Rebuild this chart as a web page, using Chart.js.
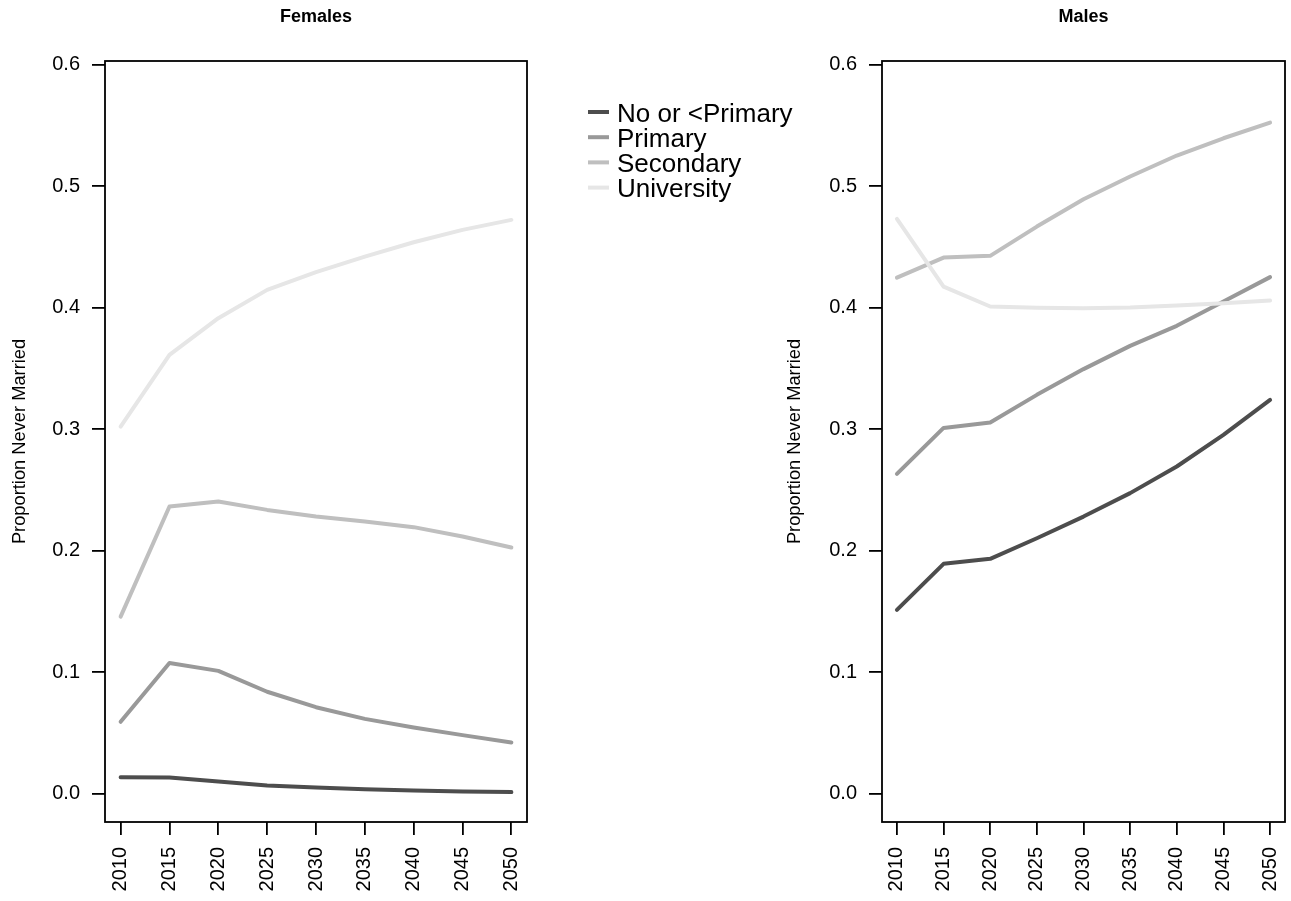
<!DOCTYPE html>
<html><head><meta charset="utf-8">
<script src="https://cdn.jsdelivr.net/npm/chart.js@4.4.0/dist/chart.umd.min.js"></script>
<style>
html,body{margin:0;padding:0;background:#fff;}
#wrap{position:relative;width:1291px;height:901px;overflow:hidden;background:#fff;}
canvas{position:absolute;top:0;}
</style></head><body>
<div id="wrap">
<canvas id="fem" width="830" height="901" style="left:0px"></canvas>
<canvas id="male" width="516" height="901" style="left:775px"></canvas>
</div>
<script>
// ---- data ----
const years = [2010, 2015, 2020, 2025, 2030, 2035, 2040, 2045, 2050];
const seriesNames = ['No or <Primary', 'Primary', 'Secondary', 'University'];
const panelTitles = ['Females', 'Males'];
const yAxisTitle = 'Proportion Never Married';
const yTicks = [0.0, 0.1, 0.2, 0.3, 0.4, 0.5, 0.6];

const femNone      = [0.0137, 0.0135, 0.0101, 0.0068, 0.0052, 0.0038, 0.0027, 0.0019, 0.0014];
const femPrimary   = [0.0593, 0.1076, 0.1012, 0.0840, 0.0713, 0.0617, 0.0546, 0.0483, 0.0422];
const femSecondary = [0.1459, 0.2365, 0.2406, 0.2337, 0.2282, 0.2241, 0.2195, 0.2118, 0.2027];
const femUniv      = [0.3023, 0.3613, 0.3915, 0.4148, 0.4294, 0.4422, 0.4540, 0.4642, 0.4724];

const maleNone      = [0.1514, 0.1893, 0.1934, 0.2104, 0.2282, 0.2475, 0.2694, 0.2955, 0.3243];
const malePrimary   = [0.2634, 0.3012, 0.3056, 0.3284, 0.3496, 0.3687, 0.3852, 0.4052, 0.4253];
const maleSecondary = [0.4249, 0.4414, 0.4428, 0.4669, 0.4894, 0.5081, 0.5254, 0.5396, 0.5525];
const maleUniv      = [0.4733, 0.4175, 0.4011, 0.4000, 0.3997, 0.4003, 0.4019, 0.4038, 0.4060];

// ---- styles ----
const lineColors = ['#4D4D4D', '#999999', '#BFBFBF', '#E6E6E6'];
const FONT = '"Liberation Sans", Arial, Helvetica, sans-serif';

function makeDatasets(seriesList) {
  return seriesList.map((vals, i) => ({
    label: seriesNames[i],
    data: years.map((y, j) => ({ x: y, y: vals[j] })),
    borderColor: lineColors[i],
    backgroundColor: lineColors[i],
    borderWidth: 4,
    pointRadius: 0,
    tension: 0,
    fill: false,
    borderCapStyle: 'round',
    borderJoinStyle: 'round',
    order: seriesList.length - i
  }));
}

const framePlugin = {
  id: 'frame',
  afterDatasetsDraw(chart, args, opts) {
    const { ctx, chartArea: a } = chart;
    ctx.save();
    ctx.strokeStyle = '#000';
    ctx.lineWidth = 1.8;
    ctx.strokeRect(a.left, a.top, a.right - a.left, a.bottom - a.top);
    ctx.fillStyle = '#000';
    ctx.font = 'bold 18px ' + FONT;
    ctx.textAlign = 'center';
    ctx.textBaseline = 'alphabetic';
    ctx.fillText(opts.title, (a.left + a.right) / 2, 22);
    if (opts.legend) {
      const lx = 588, ly0 = 112, step = 25.2;
      ctx.font = '26px ' + FONT;
      ctx.textAlign = 'left';
      chart.data.datasets.forEach((ds, i) => {
        const y = ly0 + i * step;
        ctx.strokeStyle = ds.borderColor;
        ctx.lineWidth = 4;
        ctx.lineCap = 'butt';
        ctx.beginPath();
        ctx.moveTo(lx, y);
        ctx.lineTo(lx + 21, y);
        ctx.stroke();
        ctx.fillStyle = '#000';
        ctx.fillText(ds.label, 617, y + 9.5);
      });
    }
    ctx.restore();
  }
};

function makeChart(id, seriesList, title, yWidth, rightPad, legend) {
  const canvas = document.getElementById(id);
  return new Chart(canvas, {
    type: 'line',
    data: { datasets: makeDatasets(seriesList) },
    options: {
      responsive: false,
      animation: false,
      devicePixelRatio: 1,
      layout: { padding: { left: 0, right: rightPad, top: 61, bottom: 0 } },
      plugins: {
        legend: { display: false },
        tooltip: { enabled: false },
        title: { display: false },
        frame: { title: title, legend: legend }
      },
      scales: {
        x: {
          type: 'linear',
          min: 2008.4,
          max: 2051.6,
          afterBuildTicks: s => { s.ticks = years.map(v => ({ value: v })); },
          afterFit: s => { s.height = 79; s.paddingLeft = 0; s.paddingRight = 0; },
          grid: { display: true, drawOnChartArea: false, drawTicks: true, tickLength: 13, color: '#000', tickColor: '#000', lineWidth: 1.8, tickWidth: 1.8 },
          border: { display: false },
          ticks: {
            autoSkip: false, minRotation: 90, maxRotation: 90, padding: 12,
            color: '#000', font: { family: FONT, size: 20 },
            callback: v => String(v)
          }
        },
        y: {
          type: 'linear',
          min: -0.0232,
          max: 0.6032,
          afterBuildTicks: s => { s.ticks = yTicks.map(v => ({ value: v })); },
          afterFit: s => { s.width = yWidth; s.paddingTop = 0; s.paddingBottom = 0; },
          grid: { display: true, drawOnChartArea: false, drawTicks: true, tickLength: 13, color: '#000', tickColor: '#000', lineWidth: 1.8, tickWidth: 1.8 },
          border: { display: false },
          ticks: {
            padding: 12, color: '#000', font: { family: FONT, size: 20 },
            callback: v => Number(v).toFixed(1)
          },
          title: {
            display: true, text: yAxisTitle, color: '#000',
            font: { family: FONT, size: 18.3 },
            padding: { top: 9, bottom: 0 }
          }
        }
      }
    },
    plugins: [framePlugin]
  });
}

makeChart('fem', [femNone, femPrimary, femSecondary, femUniv], panelTitles[0], 105, 303, true);
makeChart('male', [maleNone, malePrimary, maleSecondary, maleUniv], panelTitles[1], 107, 6, false);
</script>
</body></html>
